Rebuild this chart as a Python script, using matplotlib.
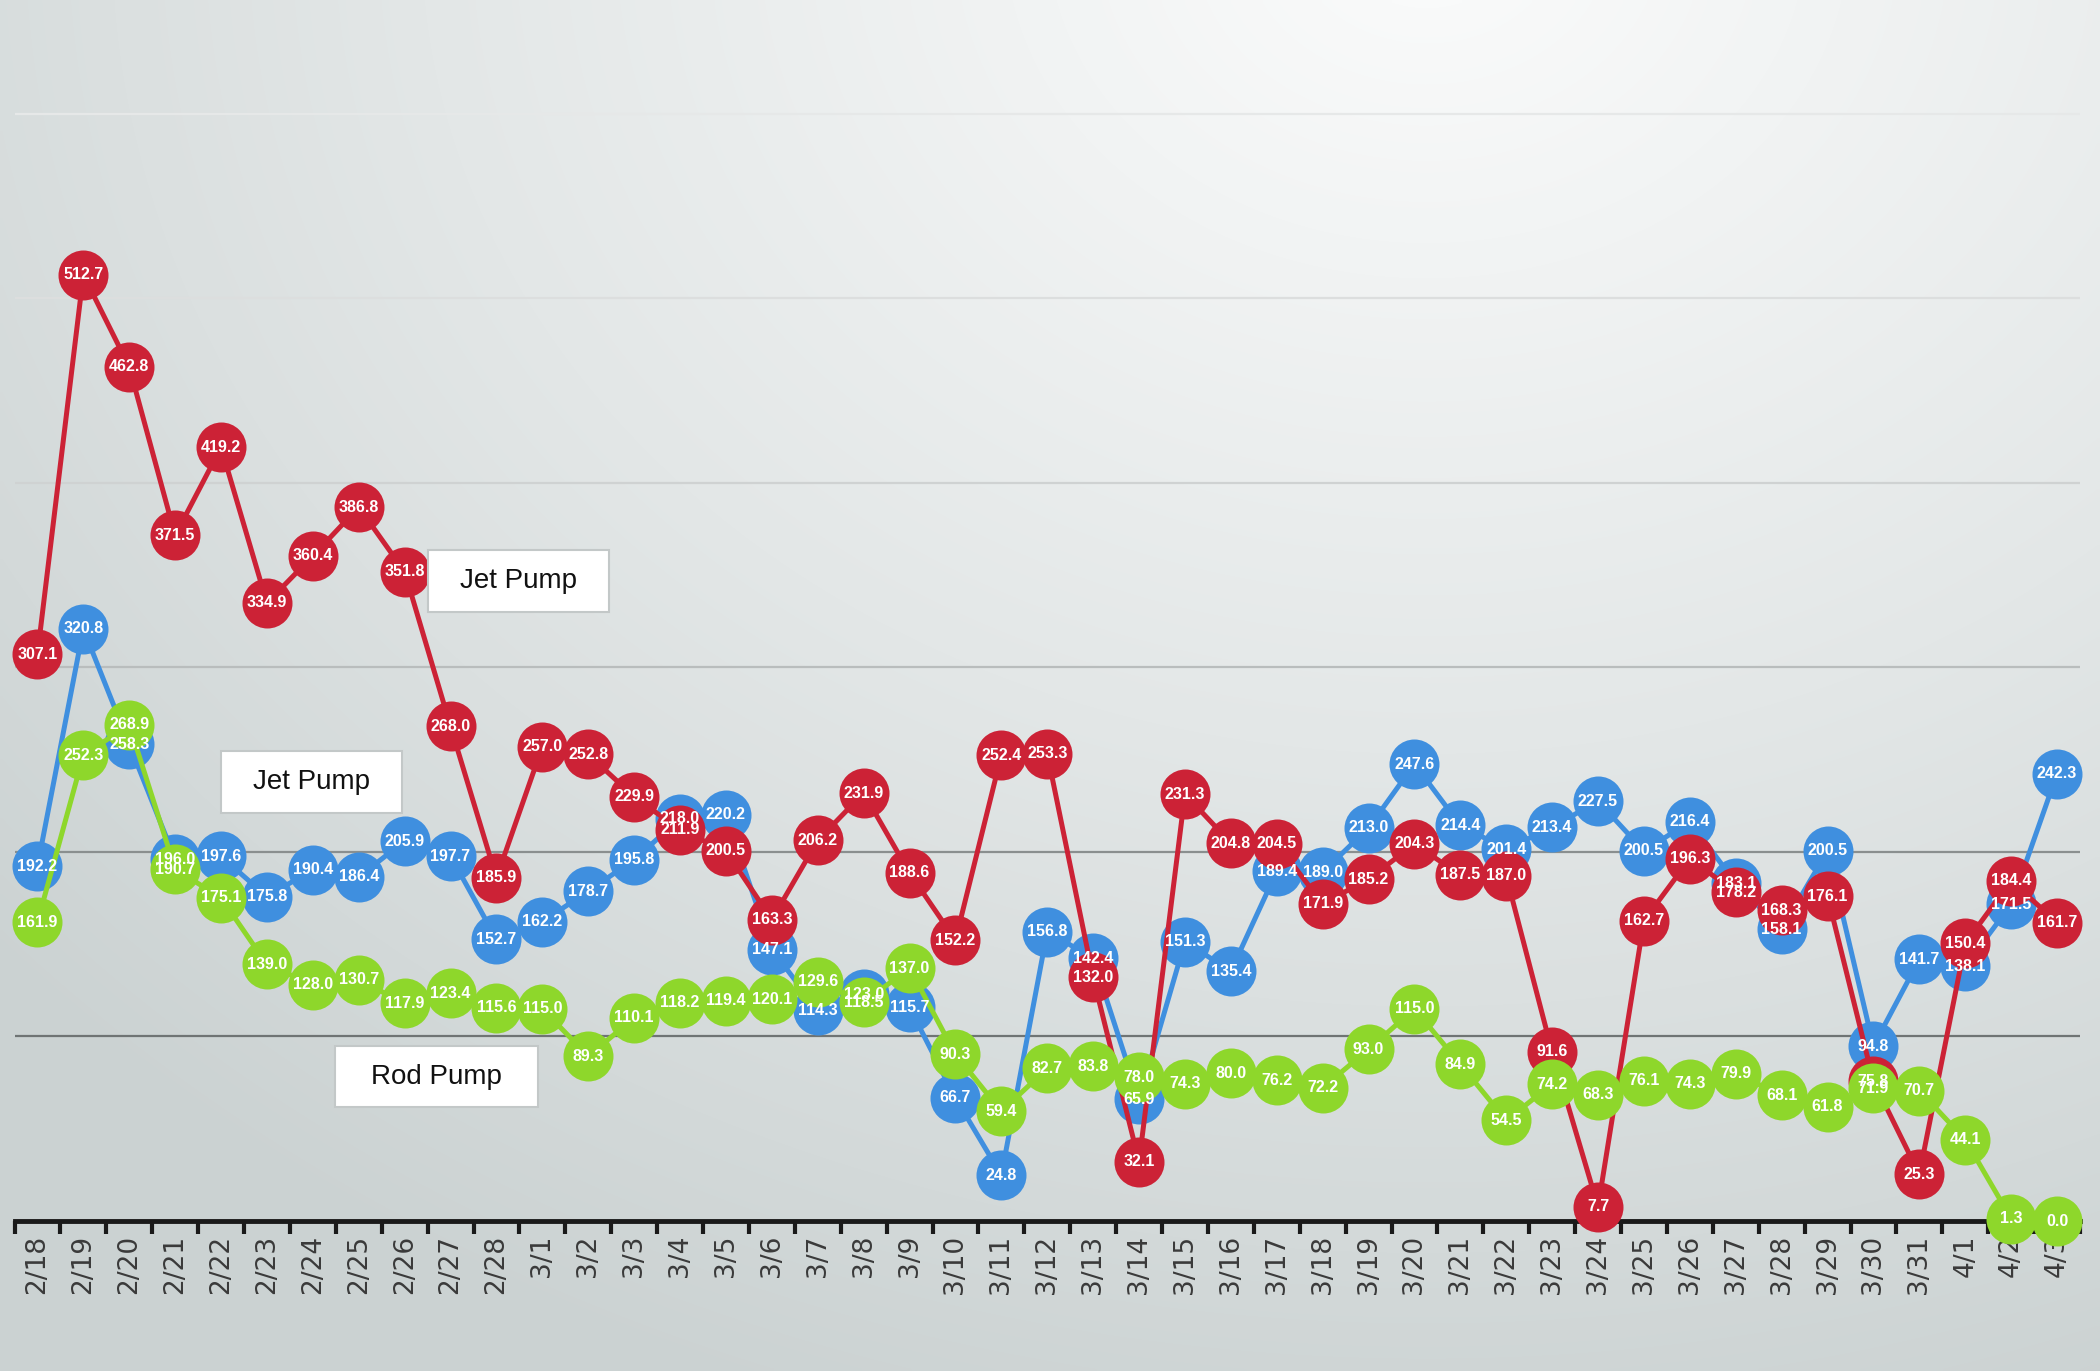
import numpy as np
import matplotlib
matplotlib.use('Agg')
import matplotlib.pyplot as plt
from matplotlib.patches import Rectangle
from matplotlib.colors import LinearSegmentedColormap

# Daily values
dates = ['2/18','2/19','2/20','2/21','2/22','2/23','2/24','2/25','2/26','2/27','2/28',
         '3/1','3/2','3/3','3/4','3/5','3/6','3/7','3/8','3/9','3/10',
         '3/11','3/12','3/13','3/14','3/15','3/16','3/17','3/18','3/19','3/20',
         '3/21','3/22','3/23','3/24','3/25','3/26','3/27','3/28','3/29','3/30','3/31',
         '4/1','4/2','4/3']
jet_red = [307.1,512.7,462.8,371.5,419.2,334.9,360.4,386.8,351.8,268.0,185.9,
           257.0,252.8,229.9,211.9,200.5,163.3,206.2,231.9,188.6,152.2,
           252.4,253.3,132.0,32.1,231.3,204.8,204.5,171.9,185.2,204.3,
           187.5,187.0,91.6,7.7,162.7,196.3,178.2,168.3,176.1,75.8,25.3,
           150.4,184.4,161.7]
jet_blue = [192.2,320.8,258.3,196.0,197.6,175.8,190.4,186.4,205.9,197.7,152.7,
            162.2,178.7,195.8,218.0,220.2,147.1,114.3,123.0,115.7,66.7,
            24.8,156.8,142.4,65.9,151.3,135.4,189.4,189.0,213.0,247.6,
            214.4,201.4,213.4,227.5,200.5,216.4,183.1,158.1,200.5,94.8,141.7,
            138.1,171.5,242.3]
rod_green = [161.9,252.3,268.9,190.7,175.1,139.0,128.0,130.7,117.9,123.4,115.6,
             115.0,89.3,110.1,118.2,119.4,120.1,129.6,118.5,137.0,90.3,
             59.4,82.7,83.8,78.0,74.3,80.0,76.2,72.2,93.0,115.0,
             84.9,54.5,74.2,68.3,76.1,74.3,79.9,68.1,61.8,71.9,70.7,
             44.1,1.3,0.0]
grid_levels = [100,200,300,400,500,600]

W,H = 2100,1371
RED = '#cc2236'
BLUE = '#3f8fdf'
GREEN = '#8ed72b'

fig = plt.figure(figsize=(W/100.0,H/100.0),dpi=100)

# soft radial background
bg = fig.add_axes([0,0,1,1],zorder=-10)
yy,xx = np.mgrid[0:1:300j,0:1:400j]
dist = np.sqrt(((xx-0.68)/0.8)**2+((yy-1.05)/1.0)**2)
cmap = LinearSegmentedColormap.from_list('bg',['#f9fafa','#e3e7e7','#cbd2d2'])
bg.imshow(dist,cmap=cmap,vmin=0.05,vmax=1.15,origin='lower',extent=[0,1,0,1],aspect='auto',interpolation='bilinear')
bg.axis('off')

ax = fig.add_axes([14.5/W,150.0/H,(2080-14.5)/W,1221.0/H])
ax.set_facecolor('none')
x = np.arange(len(dates))
ax.set_xlim(-0.5,len(dates)-0.5)
ax.set_ylim(0,661.6)

grid_colors = ['#6f7474','#8a8f8f','#b9bdbd','#cfd2d2','#dcdede','#e6e8e8']
for lev,gc in zip(grid_levels,grid_colors):
    ax.axhline(lev,color=gc,lw=1.6,zorder=1)

for vals,c,z in [(jet_blue,BLUE,3),(jet_red,RED,4),(rod_green,GREEN,5)]:
    ax.plot(x,vals,color=c,lw=3.6,marker='o',ms=36,mec=c,mew=0,zorder=z,clip_on=False)
for vals in [jet_blue,jet_red,rod_green]:
    for i,v in enumerate(vals):
        ax.text(i,v,'{:.1f}'.format(v),ha='center',va='center',color='white',fontsize=11.5,
                fontweight='bold',family=['Liberation Sans','DejaVu Sans'],zorder=10,clip_on=False)

for s in ['top','right','left']:
    ax.spines[s].set_visible(False)
ax.spines['bottom'].set_linewidth(3.5)
ax.spines['bottom'].set_color('#1a1a1a')
ax.spines['bottom'].set_zorder(2.5)
ax.set_yticks([])
ax.set_xticks(x)
ax.set_xticklabels(dates,rotation=90,fontsize=19,color='#3a3a3a')
ax.set_xticks(np.arange(-0.5,len(dates),1.0),minor=True)
ax.tick_params(axis='x',which='major',length=0,pad=10)
ax.tick_params(axis='x',which='minor',length=9,width=3,color='#1a1a1a',direction='out')

# label boxes (pixel coords from top-left)
boxes = [(428,550,609,612,'Jet Pump'),(221,751,402,813,'Jet Pump'),(335,1046,538,1107,'Rod Pump')]
for x0,y0,x1,y1,txt in boxes:
    r = Rectangle((x0/float(W),1-y1/float(H)),(x1-x0)/float(W),(y1-y0)/float(H),transform=fig.transFigure,
                  fc='white',ec='#c3c8c8',lw=1.5,zorder=20)
    fig.add_artist(r)
    fig.text((x0+x1)/2.0/W,1-(y0+y1)/2.0/H,txt,ha='center',va='center',fontsize=20,color='#111111',
             family=['Liberation Sans','DejaVu Sans'],zorder=21)

plt.savefig('out.png',dpi=100)
